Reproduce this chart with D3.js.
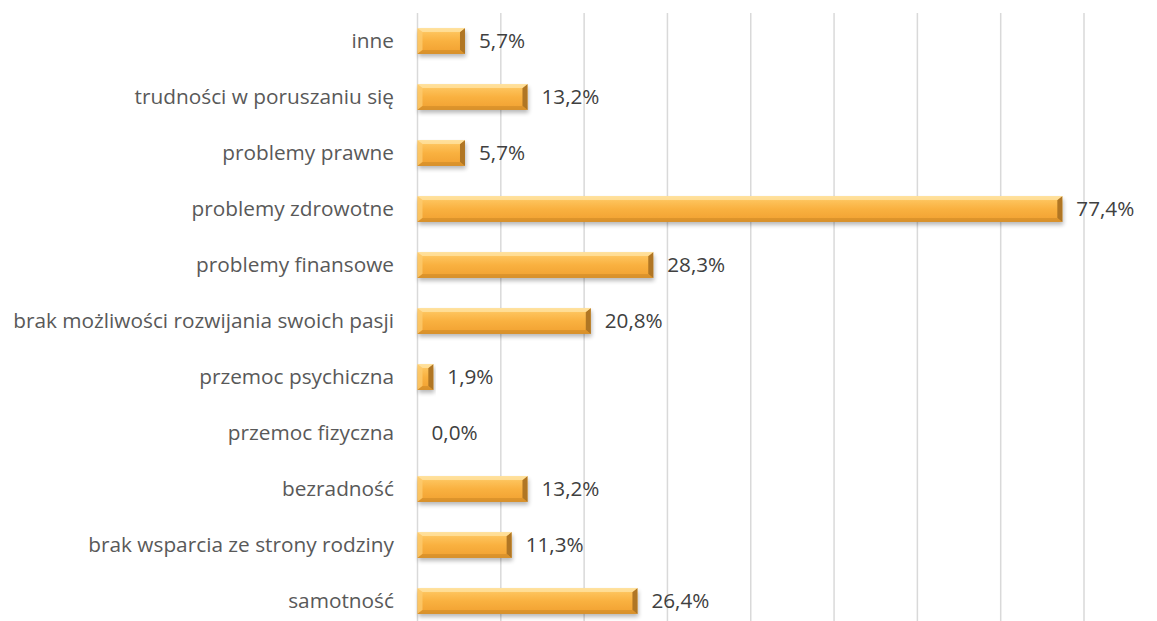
<!DOCTYPE html>
<html><head><meta charset="utf-8">
<script src="https://cdn.jsdelivr.net/npm/d3@7"></script>
<style>body{margin:0;background:#fff}svg{display:block}</style>
</head><body>
<svg id="c" width="1157" height="621"></svg>
<script>
const categories = ["inne","trudności w poruszaniu się","problemy prawne","problemy zdrowotne","problemy finansowe","brak możliwości rozwijania swoich pasji","przemoc psychiczna","przemoc fizyczna","bezradność","brak wsparcia ze strony rodziny","samotność"];
const values = [5.7,13.2,5.7,77.4,28.3,20.8,1.9,0.0,13.2,11.3,26.4];
const xTicks = [0,10,20,30,40,50,60,70,80];

const svg = d3.select("#c");
const m = {left:417.5, right:1084, top:13, bottom:629};
const x = d3.scaleLinear().domain([0,80]).range([m.left, m.right]);
const y = d3.scaleBand().domain(categories).range([m.top, m.bottom]).paddingInner(0.54).paddingOuter(0.27);

const defs = svg.append("defs");
const g = defs.append("linearGradient").attr("id","bg").attr("x1",0).attr("y1",0).attr("x2",0).attr("y2",1);
[[0,"#FFD98A"],[0.18,"#FDC25A"],[0.5,"#F9B140"],[0.85,"#F3A535"],[1,"#D58E2A"]].forEach(([o,c])=>g.append("stop").attr("offset",o).attr("stop-color",c));
const f = defs.append("filter").attr("id","sh").attr("x","-10%").attr("y","-50%").attr("width","120%").attr("height","200%");
f.append("feGaussianBlur").attr("stdDeviation",2);

// gridlines
svg.append("g").selectAll("line").data(xTicks).join("line")
  .attr("x1",d=>x(d)).attr("x2",d=>x(d)).attr("y1",m.top).attr("y2",621)
  .attr("stroke","#d9d9d9").attr("stroke-width",1.5);

const rows = svg.append("g").selectAll("g").data(categories.map((c,i)=>({c,v:values[i]}))).join("g");
const bh = y.bandwidth();

// shadow
rows.filter(d=>d.v>0).append("rect")
  .attr("x",x(0)+1).attr("y",d=>y(d.c)+3).attr("width",d=>Math.max(0,x(d.v)-x(0)))
  .attr("height",bh).attr("fill","#000").attr("opacity",0.28).attr("filter","url(#sh)");
// body
rows.filter(d=>d.v>0).append("rect")
  .attr("x",x(0)).attr("y",d=>y(d.c)).attr("width",d=>x(d.v)-x(0)).attr("height",bh)
  .attr("fill","url(#bg)");
// right bevel
rows.filter(d=>d.v>0).append("path")
  .attr("d",d=>{const x1=x(d.v), y0=y(d.c), y1=y0+bh, b=Math.min(5,(x1-x(0))/2);
    return `M${x1},${y0}L${x1},${y1}L${x1-b},${y1-4}L${x1-b},${y0+4}Z`;})
  .attr("fill","#B07624");
// left bevel highlight
rows.filter(d=>d.v>0).append("path")
  .attr("d",d=>{const x0=x(0), y0=y(d.c), y1=y0+bh, b=Math.min(5,(x(d.v)-x0)/2);
    return `M${x0},${y0}L${x0+b},${y0+4}L${x0+b},${y1-4}L${x0},${y1}Z`;})
  .attr("fill","#FCCB6E").attr("opacity",0.8);
// bottom darker strip
rows.filter(d=>d.v>0).append("path")
  .attr("d",d=>{const x0=x(0), x1=x(d.v), y1=y(d.c)+bh, b=Math.min(5,(x1-x0)/2);
    return `M${x0},${y1}L${x1},${y1}L${x1-b},${y1-4}L${x0+b},${y1-4}Z`;})
  .attr("fill","#D8912B").attr("opacity",0.8);
// top highlight strip
rows.filter(d=>d.v>0).append("path")
  .attr("d",d=>{const x0=x(0), x1=x(d.v), y0=y(d.c), b=Math.min(5,(x1-x0)/2);
    return `M${x0},${y0}L${x1},${y0}L${x1-b},${y0+4}L${x0+b},${y0+4}Z`;})
  .attr("fill","#FFE2A0").attr("opacity",0.8);

const font = "'Open Sans', 'Noto Sans', sans-serif";
// value labels
const vals = rows.append("text").attr("x",d=>x(d.v)+14).attr("y",d=>y(d.c)+bh/2)
  .attr("dy","0.35em").attr("font-family",font).attr("font-size",18).attr("fill","#404040")
  .text(d=>d.v.toFixed(1).replace(".",",")+"%");
let vW = 0; vals.each(function(){vW=Math.max(vW,this.getComputedTextLength());});
vals.attr("font-size",18*58/vW);

// category labels
const labels = rows.append("text").attr("x",394).attr("y",d=>y(d.c)+bh/2)
  .attr("dy","0.35em").attr("text-anchor","end").attr("font-family",font).attr("font-size",18).attr("fill","#595959")
  .text(d=>d.c);
let maxW = 0; labels.each(function(){maxW=Math.max(maxW,this.getComputedTextLength());});
labels.attr("font-size",18*381/maxW);
</script>
</body></html>
